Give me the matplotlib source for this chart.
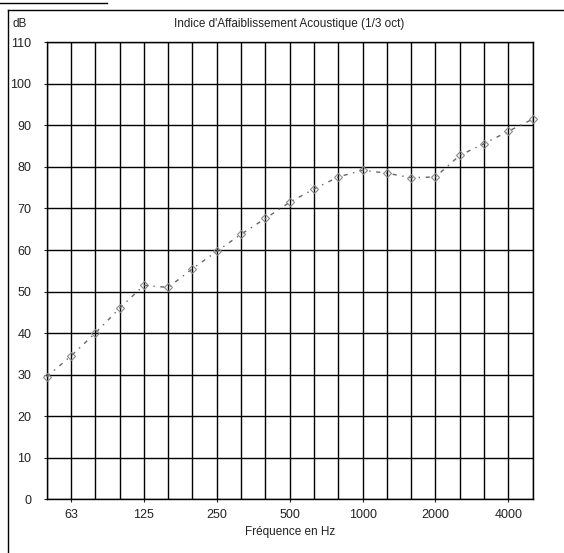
import numpy as np
import matplotlib
matplotlib.use('Agg')
import matplotlib.pyplot as plt
from matplotlib.lines import Line2D

# bandes de tiers d'octave (Hz)
bandes = ['50', '63', '80', '100', '125', '160', '200', '250', '315', '400', '500',
          '630', '800', '1000', '1250', '1600', '2000', '2500', '3150', '4000', '5000']
# indice d'affaiblissement (dB)
R = [29.5, 34.5, 40.0, 46.0, 51.5, 51.0, 55.5, 59.7, 63.8, 67.6, 71.5,
     74.7, 77.6, 79.2, 78.5, 77.4, 77.6, 82.8, 85.6, 88.6, 91.5]
# etiquettes affichees (octaves)
etiquettes = ['63', '125', '250', '500', '1000', '2000', '4000']
yticks = list(range(0, 111, 10))

plt.rcParams['font.family'] = ['Liberation Sans', 'DejaVu Sans']

fig = plt.figure(figsize=(5.64, 5.53), dpi=100)
ax = fig.add_axes([0.0828, 0.0971, 0.8617, 0.8264])

x = np.arange(len(bandes))
ax.plot(x, R, color='#666666', linewidth=1.0, linestyle=(0, (3, 4, 1, 4)),
        marker='D', markersize=4, markerfacecolor='none', markeredgecolor='#888888',
        markeredgewidth=0.8, zorder=3, clip_on=False)

ax.set_xlim(0, len(bandes) - 1)
ax.set_ylim(0, 110)
ax.set_xticks(x, minor=True)
ax.set_xticks([bandes.index(e) for e in etiquettes])
ax.set_xticklabels(etiquettes)
ax.set_yticks(yticks)
ax.grid(True, which='major', axis='y', color='black', linewidth=1.0)
ax.grid(True, which='both', axis='x', color='black', linewidth=1.0)
ax.tick_params(axis='both', which='both', length=2, labelsize=9, colors='#222222')
ax.tick_params(axis='x', which='minor', length=0)
ax.tick_params(axis='x', pad=5)
ax.tick_params(axis='y', pad=9)
for s in ax.spines.values():
    s.set_linewidth(1.0)
    s.set_color('black')

fig.text(0.5136, 0.9566, "Indice d'Affaiblissement Acoustique (1/3 oct)",
         ha='center', va='center', fontsize=8.5, color='#222222')
fig.text(0.023, 0.9566, 'dB', ha='left', va='center', fontsize=8.5, color='#222222')
fig.text(0.5136, 0.038, 'Fréquence en Hz', ha='center', va='center', fontsize=8.5,
         color='#222222')

# cadre du scan
fig.add_artist(Line2D([0.015, 1.0], [0.982, 0.982], color='black', linewidth=1.0))
fig.add_artist(Line2D([0.015, 0.015], [0.0, 0.982], color='black', linewidth=1.0))
fig.add_artist(Line2D([0.0, 0.19], [0.995, 0.995], color='black', linewidth=1.0))

fig.savefig('out.png', dpi=100)
